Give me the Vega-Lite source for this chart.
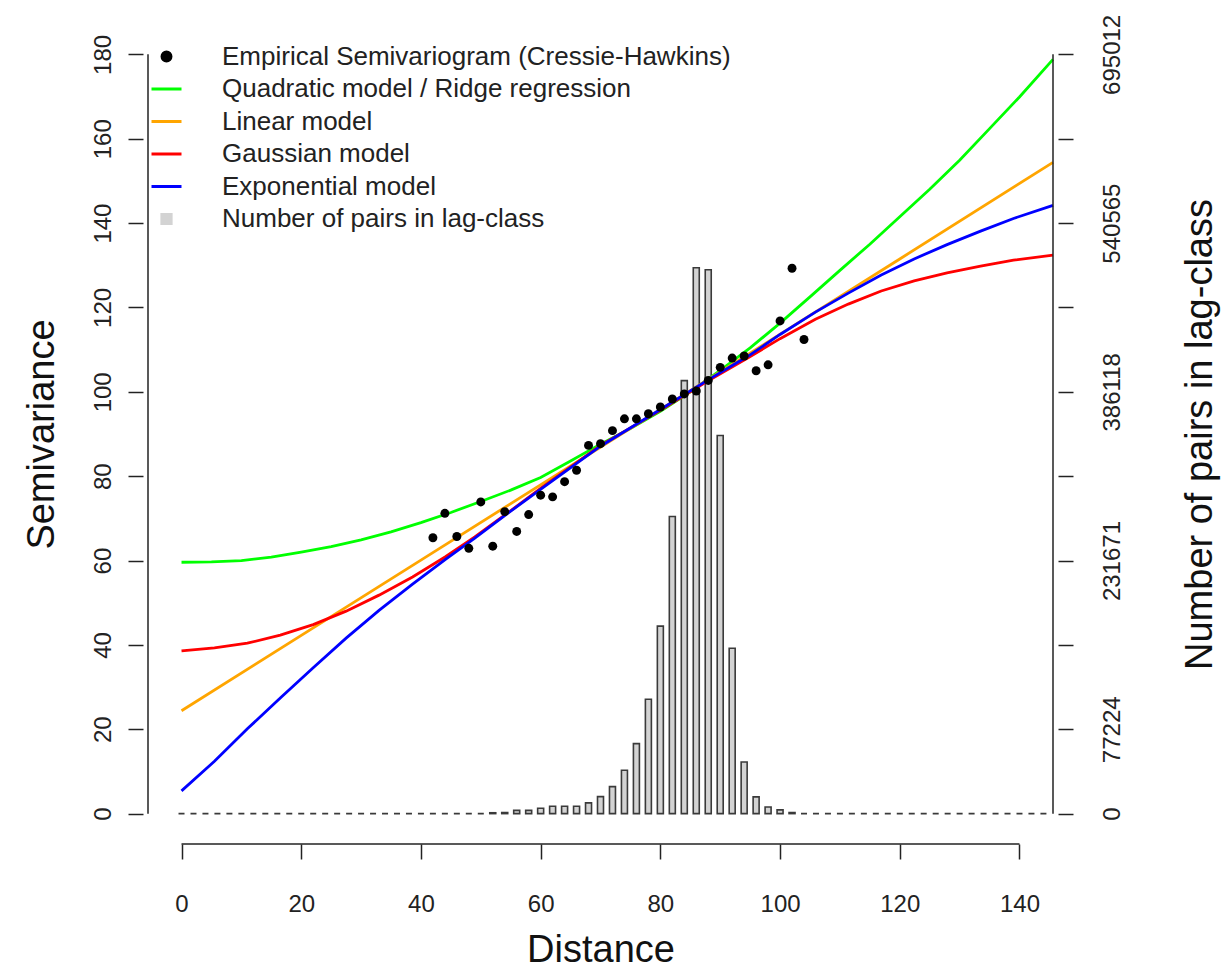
{
  "$schema": "https://vega.github.io/schema/vega-lite/v6.json",
  "width": 915,
  "height": 820,
  "autosize": {"type": "none"},
  "padding": {"left": 143, "top": 24, "right": 167, "bottom": 129},
  "background": "white",
  "config": {
    "view": {"stroke": null},
    "font": "Liberation Sans",
    "axis": {
      "domain": false,
      "grid": false,
      "tickColor": "#222",
      "tickWidth": 1.5,
      "tickSize": 15,
      "labelColor": "#222",
      "titleColor": "#111",
      "labelFont": "Liberation Sans",
      "titleFont": "Liberation Sans",
      "titleFontWeight": "normal",
      "labelFontSize": 24,
      "titleFontSize": 38,
      "labelOverlap": false,
      "labelFlush": false,
      "labelBound": false
    },
    "legend": {
      "labelFont": "Liberation Sans",
      "labelFontSize": 26,
      "labelColor": "#222",
      "labelLimit": 1000
    }
  },
  "datasets": {
    "curves": [
      {"model": "Quadratic model / Ridge regression", "distance": 0, "semivariance": 59.6},
      {"model": "Quadratic model / Ridge regression", "distance": 5, "semivariance": 59.7},
      {"model": "Quadratic model / Ridge regression", "distance": 10, "semivariance": 60.0},
      {"model": "Quadratic model / Ridge regression", "distance": 15, "semivariance": 60.8},
      {"model": "Quadratic model / Ridge regression", "distance": 20, "semivariance": 62.0},
      {"model": "Quadratic model / Ridge regression", "distance": 25, "semivariance": 63.3},
      {"model": "Quadratic model / Ridge regression", "distance": 30, "semivariance": 64.9},
      {"model": "Quadratic model / Ridge regression", "distance": 35, "semivariance": 66.8},
      {"model": "Quadratic model / Ridge regression", "distance": 40, "semivariance": 69.0},
      {"model": "Quadratic model / Ridge regression", "distance": 45, "semivariance": 71.4},
      {"model": "Quadratic model / Ridge regression", "distance": 50, "semivariance": 74.0},
      {"model": "Quadratic model / Ridge regression", "distance": 55, "semivariance": 76.7},
      {"model": "Quadratic model / Ridge regression", "distance": 60, "semivariance": 79.7},
      {"model": "Quadratic model / Ridge regression", "distance": 65, "semivariance": 83.6},
      {"model": "Quadratic model / Ridge regression", "distance": 70, "semivariance": 87.6},
      {"model": "Quadratic model / Ridge regression", "distance": 75, "semivariance": 91.3},
      {"model": "Quadratic model / Ridge regression", "distance": 80, "semivariance": 95.4},
      {"model": "Quadratic model / Ridge regression", "distance": 85, "semivariance": 100.0},
      {"model": "Quadratic model / Ridge regression", "distance": 90, "semivariance": 105.1},
      {"model": "Quadratic model / Ridge regression", "distance": 95, "semivariance": 110.4},
      {"model": "Quadratic model / Ridge regression", "distance": 100, "semivariance": 116.3},
      {"model": "Quadratic model / Ridge regression", "distance": 105, "semivariance": 122.5},
      {"model": "Quadratic model / Ridge regression", "distance": 110, "semivariance": 128.8},
      {"model": "Quadratic model / Ridge regression", "distance": 115, "semivariance": 135.0},
      {"model": "Quadratic model / Ridge regression", "distance": 120, "semivariance": 141.5},
      {"model": "Quadratic model / Ridge regression", "distance": 125, "semivariance": 148.0},
      {"model": "Quadratic model / Ridge regression", "distance": 130, "semivariance": 154.9},
      {"model": "Quadratic model / Ridge regression", "distance": 135, "semivariance": 162.4},
      {"model": "Quadratic model / Ridge regression", "distance": 140, "semivariance": 169.9},
      {"model": "Quadratic model / Ridge regression", "distance": 145.6, "semivariance": 178.8},
      {"model": "Linear model", "distance": 0, "semivariance": 24.4},
      {"model": "Linear model", "distance": 40, "semivariance": 60.1},
      {"model": "Linear model", "distance": 80, "semivariance": 95.8},
      {"model": "Linear model", "distance": 120, "semivariance": 131.5},
      {"model": "Linear model", "distance": 145.6, "semivariance": 154.4},
      {"model": "Gaussian model", "distance": 0, "semivariance": 38.6},
      {"model": "Gaussian model", "distance": 5.5, "semivariance": 39.3},
      {"model": "Gaussian model", "distance": 11, "semivariance": 40.4},
      {"model": "Gaussian model", "distance": 16.5, "semivariance": 42.3},
      {"model": "Gaussian model", "distance": 22, "semivariance": 44.8},
      {"model": "Gaussian model", "distance": 27.5, "semivariance": 48.0},
      {"model": "Gaussian model", "distance": 33, "semivariance": 51.8},
      {"model": "Gaussian model", "distance": 38.6, "semivariance": 56.1},
      {"model": "Gaussian model", "distance": 44.1, "semivariance": 60.9},
      {"model": "Gaussian model", "distance": 49, "semivariance": 65.6},
      {"model": "Gaussian model", "distance": 54.6, "semivariance": 71.4},
      {"model": "Gaussian model", "distance": 60.1, "semivariance": 77.2},
      {"model": "Gaussian model", "distance": 65.6, "semivariance": 82.8},
      {"model": "Gaussian model", "distance": 70, "semivariance": 87.3},
      {"model": "Gaussian model", "distance": 80, "semivariance": 95.6},
      {"model": "Gaussian model", "distance": 87.7, "semivariance": 102.4},
      {"model": "Gaussian model", "distance": 94.8, "semivariance": 108.2},
      {"model": "Gaussian model", "distance": 100, "semivariance": 112.6},
      {"model": "Gaussian model", "distance": 105.9, "semivariance": 117.2},
      {"model": "Gaussian model", "distance": 111.4, "semivariance": 120.8},
      {"model": "Gaussian model", "distance": 116.9, "semivariance": 123.9},
      {"model": "Gaussian model", "distance": 122.4, "semivariance": 126.3},
      {"model": "Gaussian model", "distance": 127.9, "semivariance": 128.2},
      {"model": "Gaussian model", "distance": 133.5, "semivariance": 129.8},
      {"model": "Gaussian model", "distance": 139, "semivariance": 131.2},
      {"model": "Gaussian model", "distance": 145.6, "semivariance": 132.4},
      {"model": "Exponential model", "distance": 0, "semivariance": 5.4},
      {"model": "Exponential model", "distance": 5.5, "semivariance": 12.4},
      {"model": "Exponential model", "distance": 11, "semivariance": 20.1},
      {"model": "Exponential model", "distance": 16.5, "semivariance": 27.4},
      {"model": "Exponential model", "distance": 22, "semivariance": 34.6},
      {"model": "Exponential model", "distance": 27.5, "semivariance": 41.6},
      {"model": "Exponential model", "distance": 33, "semivariance": 48.2},
      {"model": "Exponential model", "distance": 38.6, "semivariance": 54.4},
      {"model": "Exponential model", "distance": 44.1, "semivariance": 60.3},
      {"model": "Exponential model", "distance": 49, "semivariance": 65.3},
      {"model": "Exponential model", "distance": 54.6, "semivariance": 71.3},
      {"model": "Exponential model", "distance": 60.1, "semivariance": 77.0},
      {"model": "Exponential model", "distance": 65.6, "semivariance": 82.6},
      {"model": "Exponential model", "distance": 70, "semivariance": 87.1},
      {"model": "Exponential model", "distance": 80, "semivariance": 95.8},
      {"model": "Exponential model", "distance": 87.7, "semivariance": 102.6},
      {"model": "Exponential model", "distance": 94.8, "semivariance": 108.6},
      {"model": "Exponential model", "distance": 100, "semivariance": 113.6},
      {"model": "Exponential model", "distance": 105.9, "semivariance": 118.9},
      {"model": "Exponential model", "distance": 111.4, "semivariance": 123.4},
      {"model": "Exponential model", "distance": 116.9, "semivariance": 127.7},
      {"model": "Exponential model", "distance": 122.4, "semivariance": 131.5},
      {"model": "Exponential model", "distance": 127.9, "semivariance": 134.9},
      {"model": "Exponential model", "distance": 133.5, "semivariance": 138.1},
      {"model": "Exponential model", "distance": 139, "semivariance": 141.1},
      {"model": "Exponential model", "distance": 145.6, "semivariance": 144.2}
    ],
    "points": [
      {"distance": 42, "semivariance": 65.4},
      {"distance": 44, "semivariance": 71.2},
      {"distance": 46, "semivariance": 65.7},
      {"distance": 48, "semivariance": 62.9},
      {"distance": 50, "semivariance": 73.9},
      {"distance": 52, "semivariance": 63.4},
      {"distance": 54, "semivariance": 71.6},
      {"distance": 56, "semivariance": 66.9},
      {"distance": 58, "semivariance": 70.9},
      {"distance": 60, "semivariance": 75.5},
      {"distance": 62, "semivariance": 75.1},
      {"distance": 64, "semivariance": 78.7},
      {"distance": 66, "semivariance": 81.4},
      {"distance": 68, "semivariance": 87.3},
      {"distance": 70, "semivariance": 87.7},
      {"distance": 72, "semivariance": 90.8},
      {"distance": 74, "semivariance": 93.6},
      {"distance": 76, "semivariance": 93.6},
      {"distance": 78, "semivariance": 94.8},
      {"distance": 80, "semivariance": 96.4},
      {"distance": 82, "semivariance": 98.3},
      {"distance": 84, "semivariance": 99.5},
      {"distance": 86, "semivariance": 100.2},
      {"distance": 88, "semivariance": 102.7},
      {"distance": 90, "semivariance": 105.8},
      {"distance": 92, "semivariance": 108.0},
      {"distance": 94, "semivariance": 108.5},
      {"distance": 96, "semivariance": 105.0},
      {"distance": 98, "semivariance": 106.4},
      {"distance": 100, "semivariance": 116.8},
      {"distance": 102, "semivariance": 129.3},
      {"distance": 104, "semivariance": 112.4}
    ],
    "pairs": [
      {"lag": 0, "pairs": 0}, {"lag": 2, "pairs": 0}, {"lag": 4, "pairs": 0}, {"lag": 6, "pairs": 0},
      {"lag": 8, "pairs": 0}, {"lag": 10, "pairs": 0}, {"lag": 12, "pairs": 0}, {"lag": 14, "pairs": 0},
      {"lag": 16, "pairs": 0}, {"lag": 18, "pairs": 0}, {"lag": 20, "pairs": 0}, {"lag": 22, "pairs": 0},
      {"lag": 24, "pairs": 0}, {"lag": 26, "pairs": 0}, {"lag": 28, "pairs": 0}, {"lag": 30, "pairs": 0},
      {"lag": 32, "pairs": 0}, {"lag": 34, "pairs": 0}, {"lag": 36, "pairs": 0}, {"lag": 38, "pairs": 0},
      {"lag": 40, "pairs": 0}, {"lag": 42, "pairs": 0}, {"lag": 44, "pairs": 0}, {"lag": 46, "pairs": 0},
      {"lag": 48, "pairs": 0}, {"lag": 50, "pairs": 0}, {"lag": 52, "pairs": 800}, {"lag": 54, "pairs": 1000},
      {"lag": 56, "pairs": 3000}, {"lag": 58, "pairs": 3000}, {"lag": 60, "pairs": 4900}, {"lag": 62, "pairs": 6700},
      {"lag": 64, "pairs": 6700}, {"lag": 66, "pairs": 6700}, {"lag": 68, "pairs": 9800}, {"lag": 70, "pairs": 15600},
      {"lag": 72, "pairs": 24700}, {"lag": 74, "pairs": 39700}, {"lag": 76, "pairs": 64100}, {"lag": 78, "pairs": 104700},
      {"lag": 80, "pairs": 171600}, {"lag": 82, "pairs": 272000}, {"lag": 84, "pairs": 396400}, {"lag": 86, "pairs": 499700},
      {"lag": 88, "pairs": 497800}, {"lag": 90, "pairs": 346100}, {"lag": 92, "pairs": 151400}, {"lag": 94, "pairs": 47300},
      {"lag": 96, "pairs": 15300}, {"lag": 98, "pairs": 6100}, {"lag": 100, "pairs": 3400}, {"lag": 102, "pairs": 1000},
      {"lag": 104, "pairs": 0}, {"lag": 106, "pairs": 0}, {"lag": 108, "pairs": 0}, {"lag": 110, "pairs": 0},
      {"lag": 112, "pairs": 0}, {"lag": 114, "pairs": 0}, {"lag": 116, "pairs": 0}, {"lag": 118, "pairs": 0},
      {"lag": 120, "pairs": 0}, {"lag": 122, "pairs": 0}, {"lag": 124, "pairs": 0}, {"lag": 126, "pairs": 0},
      {"lag": 128, "pairs": 0}, {"lag": 130, "pairs": 0}, {"lag": 132, "pairs": 0}, {"lag": 134, "pairs": 0},
      {"lag": 136, "pairs": 0}, {"lag": 138, "pairs": 0}, {"lag": 140, "pairs": 0}, {"lag": 142, "pairs": 0},
      {"lag": 144, "pairs": 0}
    ]
  },
  "layer": [
    {
      "data": {"name": "pairs"},
      "mark": {"type": "bar", "orient": "vertical", "size": 6, "stroke": "#3a3a3a", "strokeWidth": 1.6},
      "encoding": {
        "x": {"field": "lag", "type": "quantitative", "title": "Distance", "scale": {"domain": [-5.6, 145.6], "nice": false, "zero": false}},
        "y": {
          "field": "pairs", "type": "quantitative",
          "scale": {"domain": [-27800, 722813], "nice": false, "zero": false},
          "axis": {
            "orient": "right",
            "values": [0, 77224, 154447, 231671, 308894, 386118, 463341, 540565, 617788, 695012],
            "format": "d",
            "labelExpr": "(datum.value == 154447 || datum.value == 308894 || datum.value == 463341 || datum.value == 617788) ? '' : datum.label",
            "labelAngle": 270,
            "labelAlign": "center",
            "labelBaseline": "top",
            "labelPadding": 27,
            "title": "Number of pairs in lag-class",
            "titleAngle": 270,
            "titleAlign": "center",
            "titleBaseline": "middle",
            "titleX": 142,
            "titleY": 410
          }
        },
        "color": {"datum": "Number of pairs in lag-class", "type": "nominal"}
      }
    },
    {
      "layer": [
        {
          "data": {"name": "curves"},
          "mark": {"type": "line", "strokeWidth": 2.8, "clip": true},
          "encoding": {
            "x": {
              "field": "distance", "type": "quantitative", "title": "Distance",
              "scale": {"domain": [-5.6, 145.6], "nice": false, "zero": false},
              "axis": {
                "values": [0, 20, 40, 60, 80, 100, 120, 140],
                "labelPadding": 33,
                "labelBaseline": "top",
                "title": "Distance",
                "titleBaseline": "middle",
                "titleY": 106
              }
            },
            "y": {
              "field": "semivariance", "type": "quantitative", "title": "Semivariance",
              "scale": {"domain": [-7.2, 187.2], "nice": false, "zero": false},
              "axis": {
                "orient": "left",
                "values": [0, 20, 40, 60, 80, 100, 120, 140, 160, 180],
                "labelAngle": 270,
                "labelAlign": "center",
                "labelBaseline": "alphabetic",
                "labelPadding": 18,
                "title": "Semivariance",
                "titleAngle": 270,
                "titleAlign": "center",
                "titleBaseline": "middle",
                "titleX": -101,
                "titleY": 410
              }
            },
            "color": {
              "field": "model", "type": "nominal",
              "scale": {
                "domain": ["Empirical Semivariogram (Cressie-Hawkins)", "Quadratic model / Ridge regression", "Linear model", "Gaussian model", "Exponential model", "Number of pairs in lag-class"],
                "range": ["#000000", "#00ff00", "#ffa500", "#ff0000", "#0000ff", "#d3d3d3"]
              },
              "legend": {
                "orient": "none",
                "legendX": 7,
                "legendY": 16,
                "title": null,
                "padding": 0,
                "symbolSize": 900,
                "symbolType": "stroke",
                "symbolStrokeWidth": 3,
                "labelOffset": 39,
                "rowPadding": 2.5,
                "encode": {
                  "symbols": {
                    "update": {
                      "shape": {"signal": "datum.value == 'Empirical Semivariogram (Cressie-Hawkins)' ? 'circle' : (datum.value == 'Number of pairs in lag-class' ? 'square' : 'stroke')"},
                      "size": {"signal": "datum.value == 'Empirical Semivariogram (Cressie-Hawkins)' ? 80 : (datum.value == 'Number of pairs in lag-class' ? 85 : 900)"},
                      "fill": {"signal": "datum.value == 'Empirical Semivariogram (Cressie-Hawkins)' ? '#000000' : (datum.value == 'Number of pairs in lag-class' ? '#d3d3d3' : 'transparent')"},
                      "stroke": {"signal": "datum.value == 'Quadratic model / Ridge regression' ? '#00ff00' : (datum.value == 'Linear model' ? '#ffa500' : (datum.value == 'Gaussian model' ? '#ff0000' : (datum.value == 'Exponential model' ? '#0000ff' : 'transparent')))"},
                      "strokeWidth": {"value": 3},
                      "opacity": {"value": 1}
                    }
                  }
                }
              }
            }
          }
        },
        {
          "data": {"name": "points"},
          "mark": {"type": "point", "filled": true, "size": 80, "opacity": 1},
          "encoding": {
            "x": {"field": "distance", "type": "quantitative", "title": "Distance"},
            "y": {"field": "semivariance", "type": "quantitative", "title": "Semivariance"},
            "color": {"datum": "Empirical Semivariogram (Cressie-Hawkins)", "type": "nominal"}
          }
        },
        {
          "data": {"values": [{}]},
          "mark": {"type": "rule", "color": "#222", "strokeWidth": 1.5},
          "encoding": {"x": {"datum": 0, "title": "Distance"}, "x2": {"datum": 140}, "y": {"datum": -7.2, "title": "Semivariance"}}
        },
        {
          "data": {"values": [{}]},
          "mark": {"type": "rule", "color": "#222", "strokeWidth": 1.5},
          "encoding": {"x": {"datum": -5.6, "title": "Distance"}, "y": {"datum": 0, "title": "Semivariance"}, "y2": {"datum": 180}}
        },
        {
          "data": {"values": [{}]},
          "mark": {"type": "rule", "color": "#222", "strokeWidth": 1.5},
          "encoding": {"x": {"datum": 145.6, "title": "Distance"}, "y": {"datum": 0, "title": "Semivariance"}, "y2": {"datum": 180}}
        }
      ]
    }
  ],
  "resolve": {"scale": {"y": "independent"}, "axis": {"y": "independent"}}
}
